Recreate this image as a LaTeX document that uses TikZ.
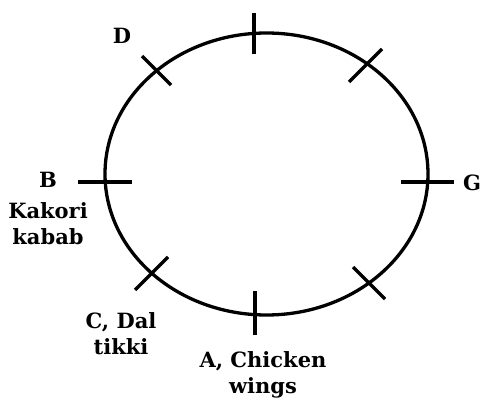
\documentclass[tikz,border=0pt]{standalone}
\usepackage{fontspec}
\setmainfont{DejaVu Serif}
\begin{document}
\begin{tikzpicture}[x=1pt,y=-1pt,
  ring/.style={line width=3.3pt, black},
  tick/.style={line width=3.3pt, black},
  lbl/.style={inner sep=0pt, align=center, font=\bfseries\fontsize{21}{26}\selectfont, text=black}]
\useasboundingbox (0,0) rectangle (480,404);
% ring
\draw[ring] (266.5,174) ellipse [x radius=161.5, y radius=141];
% tick positions on the ring
\coordinate (tT) at (254,33);
\coordinate (tB) at (255,314);
\coordinate (tL) at (105,182);
\coordinate (tR) at (428,182);
\coordinate (tUL) at (157,71);
\coordinate (tUR) at (366,65);
\coordinate (tLL) at (152,273);
\coordinate (tLR) at (369,283);
% ticks
\draw[tick] ([yshift=-21]tT) -- ([yshift=20]tT);
\draw[tick] ([yshift=-21]tB) -- ([yshift=23]tB);
\draw[tick] ([xshift=-27]tL) -- ([xshift=27]tL);
\draw[tick] ([xshift=-27]tR) -- ([xshift=26]tR);
\draw[tick] ([shift={(-15,-15)}]tUL) -- ([shift={(14,14)}]tUL);
\draw[tick] ([shift={(-17,17)}]tUR) -- ([shift={(16,-16)}]tUR);
\draw[tick] ([shift={(-17,17)}]tLL) -- ([shift={(16,-16)}]tLL);
\draw[tick] ([shift={(-16,-16)}]tLR) -- ([shift={(16,16)}]tLR);
% labels
\node[lbl, anchor=north] (labD) at (122,28) {D};
\node[lbl, anchor=north] (labG) at (472,175) {G};
\node[lbl, anchor=north] (labB) at (48,172) {B\\[5pt]Kakori\\kabab};
\node[lbl, anchor=north] (labC) at (121,312) {C, Dal\\tikki};
\node[lbl, anchor=north] (labA) at (263,351) {A, Chicken\\wings};
\end{tikzpicture}
\end{document}
